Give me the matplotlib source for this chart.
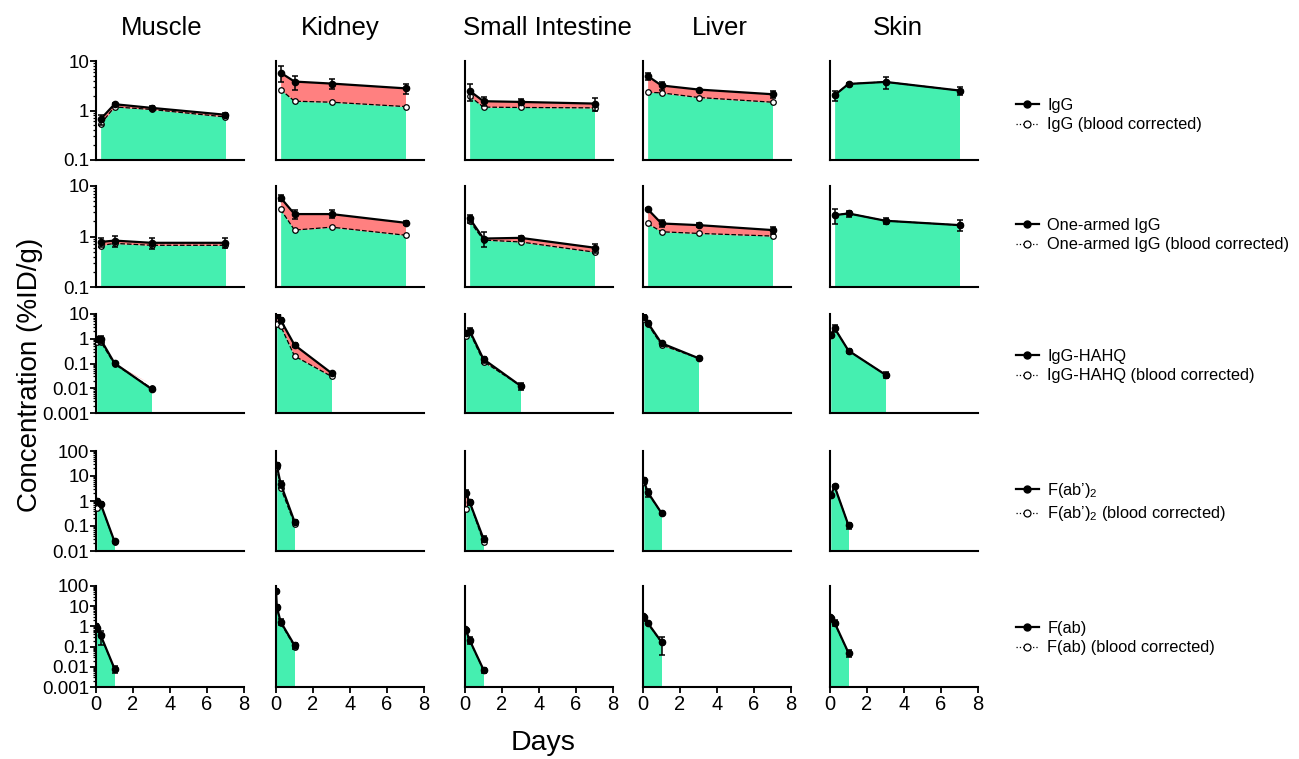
import matplotlib
matplotlib.use("Agg")
import matplotlib.pyplot as plt
from matplotlib.lines import Line2D
from matplotlib.ticker import LogLocator, NullFormatter, FixedLocator, FixedFormatter
import numpy as np

plt.rcParams['font.family'] = ['Liberation Sans', 'DejaVu Sans']
plt.rcParams['mathtext.fontset'] = 'custom'
plt.rcParams['mathtext.rm'] = 'Liberation Sans'
plt.rcParams['mathtext.it'] = 'Liberation Sans'

# ---------------- data ----------------
organs = ["Muscle", "Kidney", "Small Intestine", "Liver", "Skin"]
constructs = ["IgG", "One-armed IgG", "IgG-HAHQ", "F(ab’)$_2$", "F(ab)"]

days_igg = [0.25, 1, 3, 7]
days_oa = [0.25, 1, 3, 7]
days_hahq = [0.042, 0.25, 1, 3]
days_fab2 = [0.042, 0.25, 1]
days_fab = [0.0035, 0.042, 0.25, 1]

# rows: organs in order Muscle, Kidney, Small Intestine, Liver, Skin
igg_total = [[0.67, 1.34, 1.13, 0.82], [5.8, 3.84, 3.5, 2.8], [2.49, 1.54, 1.49, 1.38],
             [4.99, 3.2, 2.65, 2.13], [2.04, 3.44, 3.78, 2.53]]
igg_err = [[0.15, 0.08, 0.12, 0.08], [2.1, 1.2, 0.8, 0.6], [0.9, 0.3, 0.2, 0.4],
           [0.8, 0.6, 0.1, 0.3], [0.45, 0.2, 1.0, 0.5]]
igg_corr = [[0.53, 1.18, 1.05, 0.74], [2.65, 1.54, 1.47, 1.2], [1.94, 1.17, 1.15, 1.13],
            [2.34, 2.27, 1.83, 1.47], [2.04, 3.44, 3.78, 2.53]]

oa_total = [[0.78, 0.83, 0.75, 0.75], [5.86, 2.78, 2.78, 1.87], [2.28, 0.91, 0.94, 0.60],
            [3.49, 1.81, 1.68, 1.34], [2.65, 2.86, 2.05, 1.68]]
oa_err = [[0.16, 0.2, 0.18, 0.17], [0.7, 0.55, 0.5, 0.2], [0.4, 0.3, 0.1, 0.12],
          [0.1, 0.3, 0.15, 0.2], [0.85, 0.4, 0.3, 0.4]]
oa_corr = [[0.66, 0.73, 0.67, 0.67], [3.44, 1.34, 1.53, 1.06], [2.02, 0.85, 0.78, 0.49],
           [1.81, 1.24, 1.15, 1.02], [2.65, 2.86, 2.05, 1.68]]

hahq_total = [[0.95, 0.95, 0.103, 0.0093], [9.1, 5.7, 0.56, 0.041], [1.77, 2.13, 0.149, 0.0126],
              [7.8, 4.48, 0.66, 0.164], [1.43, 2.65, 0.33, 0.035]]
hahq_err = [[0.2, 0.35, 0.01, 0.001], [1.0, 1.5, 0.1, 0.004], [0.3, 0.6, 0.04, 0.004],
            [1.0, 0.8, 0.08, 0.01], [0.3, 0.8, 0.07, 0.01]]
hahq_corr = [[0.77, 0.77, 0.094, 0.0101], [3.96, 3.29, 0.2, 0.030], [1.3, 1.83, 0.12, 0.0126],
             [6.1, 3.96, 0.56, 0.164], [1.43, 2.65, 0.33, 0.035]]

fab2_total = [[0.97, 0.78, 0.024], [26.7, 4.93, 0.15], [2.09, 0.91, 0.031],
              [6.7, 2.29, 0.33], [1.69, 3.86, 0.106]]
fab2_err = [[0.2, 0.1, 0.004], [5, 1.5, 0.02], [0.6, 0.2, 0.008],
            [1.5, 0.8, 0.03], [0.3, 0.6, 0.03]]
fab2_corr = [[0.54, 0.74, 0.023], [22, 3.4, 0.125], [0.49, 0.9, 0.023],
             [5.8, 2.1, 0.33], [1.69, 3.86, 0.106]]

fab_total = [[1.07, 0.79, 0.37, 0.0081], [58, 9.4, 1.7, 0.117], [0.72, 0.68, 0.21, 0.0072],
             [3.23, 2.8, 1.52, 0.17], [3.0, 2.5, 1.52, 0.049]]
fab_err = [[0.2, 0.1, 0.25, 0.003], [10, 2, 0.5, 0.04], [0.1, 0.1, 0.08, 0.002],
           [0.3, 0.3, 0.2, 0.13], [0.3, 0.4, 0.5, 0.02]]
fab_corr = [[0.95, 0.75, 0.35, 0.0078], [55, 8.5, 1.5, 0.10], [0.7, 0.66, 0.2, 0.007],
            [3.1, 2.7, 1.45, 0.16], [2.9, 2.4, 1.45, 0.047]]

row_days = [days_igg, days_oa, days_hahq, days_fab2, days_fab]
row_total = [igg_total, oa_total, hahq_total, fab2_total, fab_total]
row_err = [igg_err, oa_err, hahq_err, fab2_err, fab_err]
row_corr = [igg_corr, oa_corr, hahq_corr, fab2_corr, fab_corr]
row_ylim = [(0.1, 10), (0.1, 10), (0.001, 10), (0.01, 100), (0.001, 100)]
row_yticks = [[0.1, 1, 10], [0.1, 1, 10], [0.001, 0.01, 0.1, 1, 10],
              [0.01, 0.1, 1, 10, 100], [0.001, 0.01, 0.1, 1, 10, 100]]
row_yticklabels = [["0.1", "1", "10"], ["0.1", "1", "10"], ["0.001", "0.01", "0.1", "1", "10"],
                   ["0.01", "0.1", "1", "10", "100"], ["0.001", "0.01", "0.1", "1", "10", "100"]]
xticks = [0, 2, 4, 6, 8]

# ---------------- layout ----------------
W, H = 1299, 759
fig = plt.figure(figsize=(W / 100, H / 100), dpi=100)
col_left = [96, 276, 465, 643, 830]
col_w = 148
row_top = [61, 186, 314, 451, 586]
row_bot = [160, 287, 413, 551, 687]
legend_y = [115, 235, 366, 502, 638]
title_x = [162, 340, 547, 720, 898]

GREEN = '#45EFB0'
RED = '#FF8080'

for r in range(5):
    for c in range(5):
        ax = fig.add_axes([col_left[c] / W, 1 - row_bot[r] / H, col_w / W,
                           (row_bot[r] - row_top[r]) / H])
        ax.set_yscale('log')
        ax.set_ylim(*row_ylim[r])
        ax.set_xlim(0, 8)
        t = np.array(row_days[r])
        tot = np.array(row_total[r][c])
        cor = np.array(row_corr[r][c])
        err = np.array(row_err[r][c])
        lo = row_ylim[r][0]
        ax.fill_between(t, lo, cor, color=GREEN, lw=0, zorder=1)
        ax.fill_between(t, cor, tot, where=tot >= cor, color=RED, lw=0, zorder=1,
                        interpolate=True)
        ax.plot(t, cor, ls='--', lw=0.9, color='k', marker='o', ms=4,
                mfc='white', mec='k', mew=0.9, zorder=3)
        ax.errorbar(t, tot, yerr=np.minimum(err, tot * 0.95), fmt='none', ecolor='k',
                    elinewidth=1.1, capsize=2.5, capthick=1.1, zorder=4)
        ax.plot(t, tot, ls='-', lw=1.6, color='k', marker='o', ms=4.5,
                mfc='k', mec='k', zorder=5)
        for s in ['top', 'right']:
            ax.spines[s].set_visible(False)
        for s in ['left', 'bottom']:
            ax.spines[s].set_linewidth(1.5)
        ax.patch.set_alpha(0)
        if c == 0:
            ax.yaxis.set_major_locator(FixedLocator(row_yticks[r]))
            ax.yaxis.set_major_formatter(FixedFormatter(row_yticklabels[r]))
            ax.yaxis.set_minor_locator(LogLocator(base=10, subs=np.arange(2, 10), numticks=20))
            ax.yaxis.set_minor_formatter(NullFormatter())
            ax.tick_params(axis='y', which='major', length=4, width=1.3, labelsize=13.5, pad=1)
            ax.tick_params(axis='y', which='minor', length=2, width=0.9)
        else:
            ax.tick_params(axis='y', which='both', left=False, labelleft=False)
        if r == 4:
            ax.set_xticks(xticks)
            ax.set_xticklabels([str(v) for v in xticks])
            ax.tick_params(axis='x', length=4, width=1.3, labelsize=14.5, pad=2)
        else:
            ax.tick_params(axis='x', which='both', bottom=False, labelbottom=False)
        ax.tick_params(axis='x', which='minor', bottom=False)
        if r == 0:
            fig.text(title_x[c] / W, 1 - 28 / H, organs[c], fontsize=18.5,
                     ha='center', va='center')

    handles = [Line2D([], [], color='k', lw=1.6, marker='o', ms=5, mfc='k'),
               Line2D([], [], color='k', lw=0.9, ls=':', marker='o', ms=5, mfc='white', mew=0.9)]
    labels = [constructs[r], constructs[r] + " (blood corrected)"]
    fig.legend(handles, labels, loc='center left',
               bbox_to_anchor=(1016 / W, 1 - legend_y[r] / H), frameon=False,
               fontsize=11.8, handlelength=1.4, handletextpad=0.5, labelspacing=0.3,
               borderaxespad=0, borderpad=0)

fig.text(30 / W, 1 - 375 / H, "Concentration (%ID/g)", rotation=90, fontsize=20,
         ha='center', va='center')
fig.text(543 / W, 1 - 743 / H, "Days", fontsize=20.5, ha='center', va='center')

fig.savefig("out.png", dpi=100)
